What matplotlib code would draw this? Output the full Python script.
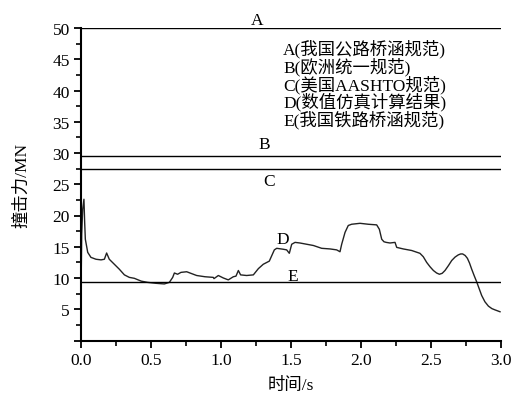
import matplotlib
matplotlib.use("Agg")
import matplotlib.pyplot as plt
from matplotlib.ticker import MultipleLocator

plt.rcParams['font.family'] = ['Liberation Serif', 'Noto Sans CJK SC']
plt.rcParams['axes.unicode_minus'] = False

# Simulated impact force (curve D)
time_s = [0.0, 0.005, 0.012, 0.021, 0.026, 0.031, 0.048, 0.071, 0.107, 0.143, 0.167,
          0.183, 0.202, 0.238, 0.274, 0.31, 0.345, 0.381, 0.43, 0.476, 0.536, 0.595,
          0.631, 0.655, 0.667, 0.69, 0.714, 0.755, 0.826, 0.886, 0.945, 0.95, 0.981,
          1.017, 1.052, 1.088, 1.107, 1.124, 1.14, 1.183, 1.231, 1.267, 1.302, 1.345,
          1.381, 1.398, 1.445, 1.469, 1.488, 1.505, 1.529, 1.564, 1.612, 1.66, 1.719,
          1.779, 1.826, 1.85, 1.862, 1.886, 1.909, 1.933, 1.993, 2.052, 2.112, 2.131,
          2.148, 2.164, 2.18, 2.207, 2.243, 2.255, 2.302, 2.362, 2.421, 2.445, 2.469,
          2.493, 2.517, 2.54, 2.56, 2.58, 2.6, 2.625, 2.648, 2.672, 2.695, 2.712,
          2.726, 2.744, 2.76, 2.775, 2.79, 2.808, 2.826, 2.844, 2.862, 2.885, 2.91,
          2.935, 2.957, 2.993]
force_mn = [7.5, 17.0, 21.0, 22.6, 19.0, 16.2, 14.1, 13.3, 13.0, 12.9, 13.0,
            14.0, 13.0, 12.2, 11.4, 10.5, 10.1, 9.95, 9.5, 9.3, 9.15, 9.05,
            9.3, 10.1, 10.8, 10.6, 10.9, 11.0, 10.4, 10.2, 10.1, 9.9, 10.4,
            10.0, 9.7, 10.2, 10.3, 11.2, 10.5, 10.4, 10.5, 11.5, 12.2, 12.7,
            14.5, 14.75, 14.6, 14.5, 13.95, 15.4, 15.7, 15.6, 15.4, 15.2, 14.75,
            14.65, 14.5, 14.2, 15.4, 17.3, 18.4, 18.6, 18.75, 18.6, 18.5, 17.8,
            16.2, 15.8, 15.7, 15.6, 15.7, 14.9, 14.65, 14.4, 13.95, 13.4, 12.5,
            11.8, 11.2, 10.8, 10.6, 10.75, 11.2, 12.0, 12.8, 13.35, 13.7, 13.85,
            13.85, 13.6, 13.15, 12.4, 11.45, 10.4, 9.4, 8.3, 7.2, 6.2, 5.5,
            5.1, 4.9, 4.6]

# Code limit values (horizontal lines)
code_names = ['A', 'B', 'C', 'E']
code_values = [50.0, 29.6, 27.4, 9.4]
code_label_pos = [(1.26, 51.3), (1.31, 31.4), (1.34, 25.5), (1.51, 10.3)]

legend_lines = ['A(我国公路桥涵规范)', 'B(欧洲统一规范)', 'C(美国AASHTO规范)',
                'D(数值仿真计算结果)', 'E(我国铁路桥涵规范)']

fig = plt.figure(figsize=(5.15, 4.02), dpi=100)
ax = fig.add_axes([81/515, 1-341.5/402, 420/515, 312.5/402])

fs = 12.5
ax.plot(time_s, force_mn, color='#222222', lw=1.0)
for v in code_values:
    ax.axhline(v, color='black', lw=1.0)
for name, (tx, ty) in zip(code_names, code_label_pos):
    ax.text(tx, ty, name, ha='center', va='center', fontsize=fs)
ax.text(1.44, 16.3, 'D', ha='center', va='center', fontsize=fs)

leg_y = [46.8, 43.95, 41.1, 38.3, 35.45]
for s, y in zip(legend_lines, leg_y):
    ax.text(1.443, y, s, ha='left', va='center', fontsize=fs)

ax.set_xlim(0, 3.0)
ax.set_ylim(0, 50)
ax.set_xticks([0, 0.5, 1.0, 1.5, 2.0, 2.5, 3.0])
ax.set_xticklabels(['0.0', '0.5', '1.0', '1.5', '2.0', '2.5', '3.0'])
ax.xaxis.set_minor_locator(MultipleLocator(0.25))
ax.set_yticks([0, 5, 10, 15, 20, 25, 30, 35, 40, 45, 50])
ax.set_yticklabels(['', '5', '10', '15', '20', '25', '30', '35', '40', '45', '50'])
ax.yaxis.set_minor_locator(MultipleLocator(2.5))

for sp in ['top', 'right']:
    ax.spines[sp].set_visible(False)
for sp in ['left', 'bottom']:
    ax.spines[sp].set_linewidth(1.5)
ax.tick_params(which='major', direction='out', length=5, width=1.3, labelsize=fs, pad=3)
ax.tick_params(which='minor', direction='out', length=3.5, width=1.2)

ax.set_xlabel('时间/s', fontsize=fs, labelpad=7)
ax.set_ylabel('撞击力/MN', fontsize=fs, labelpad=16)

fig.savefig('out.png', dpi=100, facecolor='white')
